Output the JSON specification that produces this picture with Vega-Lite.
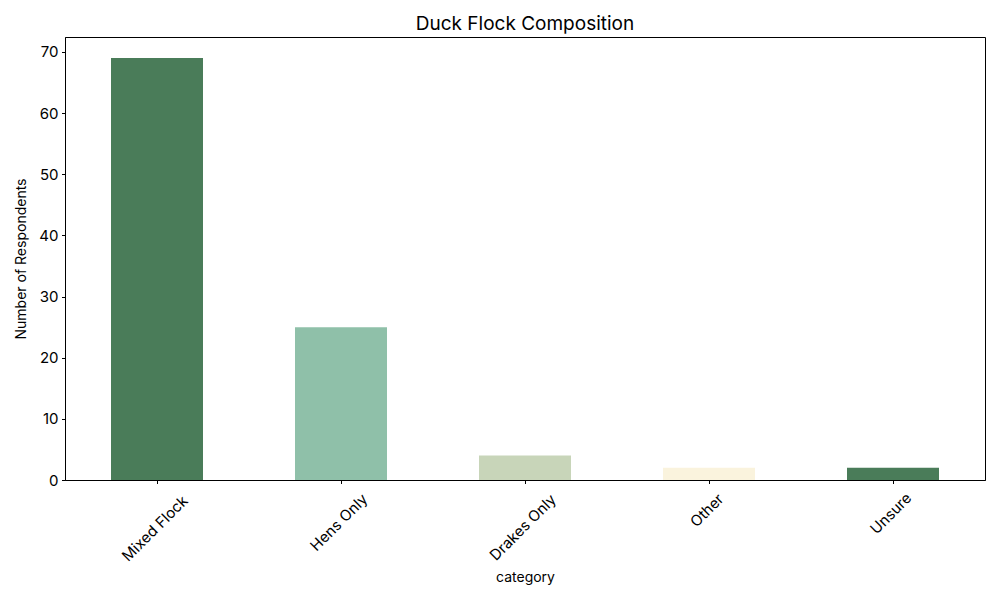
{
  "$schema": "https://vega.github.io/schema/vega-lite/v6.json",
  "autosize": "none",
  "width": 920,
  "height": 443,
  "padding": {"left": 65, "top": 37, "right": 15, "bottom": 120},
  "background": "white",
  "title": {
    "text": "Duck Flock Composition",
    "font": "Inter",
    "fontSize": 19,
    "fontWeight": "normal",
    "color": "black",
    "anchor": "middle",
    "baseline": "alphabetic",
    "offset": 8,
    "dy": 20
  },
  "data": {
    "values": [
      {"category": "Mixed Flock", "count": 69},
      {"category": "Hens Only", "count": 25},
      {"category": "Drakes Only", "count": 4},
      {"category": "Other", "count": 2},
      {"category": "Unsure", "count": 2}
    ]
  },
  "mark": {"type": "bar"},
  "encoding": {
    "x": {
      "field": "category",
      "type": "nominal",
      "sort": null,
      "scale": {"paddingInner": 0.5, "paddingOuter": 0.25},
      "axis": {
        "title": "category",
        "titleFont": "Inter",
        "titleFontSize": 14,
        "titleFontWeight": "normal",
        "titleColor": "black",
        "titleBaseline": "alphabetic",
        "titleY": 101,
        "labelFont": "Inter",
        "labelFontSize": 15,
        "labelColor": "black",
        "labelAngle": -45,
        "labelAlign": "center",
        "labelBaseline": "middle",
        "labelOffset": -2,
        "labelPadding": {
          "condition": [
            {"test": "datum.value === 'Mixed Flock'", "value": 44.5},
            {"test": "datum.value === 'Hens Only'", "value": 38.5},
            {"test": "datum.value === 'Drakes Only'", "value": 43.5},
            {"test": "datum.value === 'Other'", "value": 26.5}
          ],
          "value": 29.5
        },
        "tickSize": 3.5,
        "tickColor": "black",
        "domainColor": "black",
        "labelOverlap": false
      }
    },
    "y": {
      "field": "count",
      "type": "quantitative",
      "scale": {"domain": [0, 72.45], "nice": false},
      "axis": {
        "title": "Number of Respondents",
        "titleFont": "Inter",
        "titleFontSize": 14,
        "titleFontWeight": "normal",
        "titleColor": "black",
        "titleBaseline": "middle",
        "titleX": -44,
        "titleY": 221.5,
        "values": [0, 10, 20, 30, 40, 50, 60, 70],
        "labelFont": "Inter",
        "labelFontSize": 15,
        "labelColor": "black",
        "labelPadding": 3.5,
        "tickSize": 3.5,
        "tickColor": "black",
        "domainColor": "black",
        "grid": false
      }
    },
    "color": {
      "field": "category",
      "type": "nominal",
      "legend": null,
      "scale": {
        "domain": ["Mixed Flock", "Hens Only", "Drakes Only", "Other", "Unsure"],
        "range": ["#4a7c59", "#8fc0a9", "#c8d5b9", "#faf3dd", "#4a7c59"]
      }
    }
  },
  "config": {
    "view": {"stroke": "black", "strokeWidth": 1}
  }
}
